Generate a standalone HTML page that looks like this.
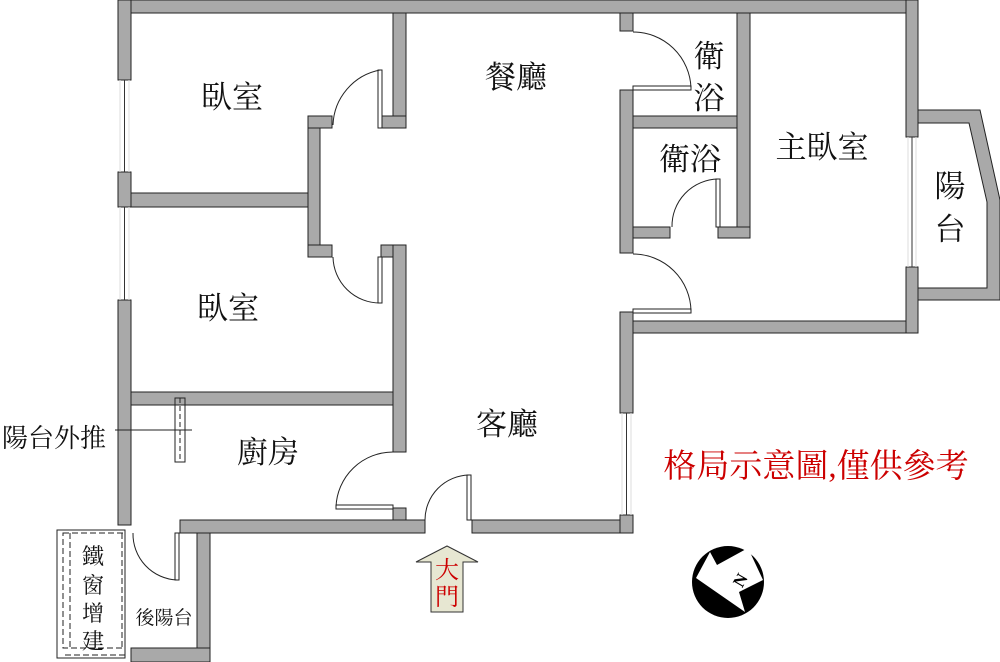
<!DOCTYPE html>
<html><head><meta charset="utf-8"><style>
html,body{margin:0;padding:0;background:#fff;width:1000px;height:662px;overflow:hidden}
svg{display:block}
text{font-family:"Liberation Serif","Noto Serif CJK SC","Noto Sans CJK TC",serif}
</style></head><body>
<svg width="1000" height="662" viewBox="0 0 1000 662" xmlns="http://www.w3.org/2000/svg">
<g fill="#a9a9a9" stroke="#222" stroke-width="1">
<rect x="118" y="0" width="800" height="13"/>
<rect x="118" y="0" width="13" height="80"/>
<rect x="118" y="172" width="13" height="35"/>
<rect x="118" y="300" width="13" height="225"/>
<rect x="131" y="193" width="177" height="14"/>
<rect x="308" y="116" width="12" height="141"/>
<rect x="308" y="116" width="24" height="12"/>
<rect x="308" y="245" width="24" height="12"/>
<rect x="393" y="13" width="13" height="115"/>
<rect x="381" y="116" width="25" height="12"/>
<rect x="381" y="245" width="25" height="12"/>
<rect x="393" y="245" width="13" height="207"/>
<rect x="393" y="508" width="13" height="14"/>
<rect x="131" y="392" width="262" height="13"/>
<rect x="180" y="520" width="245" height="13"/>
<rect x="472" y="520" width="161" height="13"/>
<rect x="197" y="533" width="13" height="129"/>
<rect x="131" y="648" width="79" height="14"/>
<rect x="620" y="13" width="13" height="18"/>
<rect x="620" y="90" width="13" height="163"/>
<rect x="620" y="312" width="13" height="101"/>
<rect x="620" y="515" width="13" height="18"/>
<rect x="737" y="13" width="13" height="225"/>
<rect x="633" y="116" width="104" height="12"/>
<rect x="633" y="227" width="37" height="11"/>
<rect x="718" y="227" width="32" height="11"/>
<rect x="633" y="321" width="285" height="12"/>
<rect x="906" y="0" width="12" height="137"/>
<rect x="906" y="267" width="12" height="66"/>
<path d="M918 110 L980 110 L1000 200 L1000 300 L918 300 L918 288 L987 288 L987 202 L969 123 L918 123 Z"/>
</g>
<g stroke="#333" stroke-width="1" fill="none">
<line x1="124.5" y1="80" x2="124.5" y2="172"/>
<line x1="124.5" y1="207" x2="124.5" y2="300"/>
<line x1="626.5" y1="413" x2="626.5" y2="515"/>
<line x1="912" y1="137" x2="912" y2="267"/>
</g>
<g stroke="#ddd" stroke-width="1" fill="none">
<line x1="120" y1="80" x2="120" y2="172"/><line x1="129" y1="80" x2="129" y2="172"/>
<line x1="120" y1="207" x2="120" y2="300"/><line x1="129" y1="207" x2="129" y2="300"/>
<line x1="622" y1="413" x2="622" y2="515"/><line x1="631" y1="413" x2="631" y2="515"/>
<line x1="908" y1="137" x2="908" y2="267"/><line x1="916" y1="137" x2="916" y2="267"/>
</g>
<g stroke="#222" stroke-width="1" fill="#fff">
<rect x="378" y="70" width="4" height="58"/>
<rect x="378" y="257" width="4" height="46"/>
<rect x="336" y="505" width="57" height="4"/>
<rect x="467" y="475" width="4" height="45"/>
<rect x="633" y="86" width="58" height="4"/>
<rect x="716" y="179" width="4" height="48"/>
<rect x="633" y="309" width="58" height="4"/>
<rect x="175" y="533" width="4" height="47"/>
</g>
<g stroke="#222" stroke-width="1" fill="none">
<path d="M380 70 A58 58 0 0 0 333 125"/>
<path d="M380 303 A47 47 0 0 1 333 257"/>
<path d="M393 452 A57 57 0 0 0 336 507"/>
<path d="M469 475 A45 45 0 0 0 425 520"/>
<path d="M633 32 A58 58 0 0 1 691 88"/>
<path d="M718 179 A47 47 0 0 0 672 227"/>
<path d="M633 254 A58 58 0 0 1 691 311"/>
<path d="M133 533 A46 46 0 0 0 177 580"/>
<rect x="175" y="398" width="10" height="64"/>
<line x1="180" y1="398" x2="180" y2="462" stroke-dasharray="5,3"/>
<line x1="115" y1="430" x2="192" y2="430"/>
<rect x="57" y="530" width="68" height="128"/>
<rect x="63" y="533" width="62" height="115" stroke-dasharray="6,3"/>
<line x1="70" y1="533" x2="70" y2="648" stroke-dasharray="6,3"/>
<line x1="122" y1="533" x2="122" y2="648" stroke-dasharray="6,3"/>
<line x1="65" y1="655" x2="125" y2="655" stroke-dasharray="6,3"/>
</g>
<path d="M416 562 L447 546 L478 562 L463 562 L463 612 L431 612 L431 562 Z" fill="#e7e7d2" stroke="#333" stroke-width="1"/>
<text x="447" y="578" font-size="24" fill="#c00" text-anchor="middle">大</text>
<text x="447" y="605" font-size="24" fill="#c00" text-anchor="middle">門</text>
<circle cx="728" cy="582" r="36" fill="#000"/>
<path d="M696 578 L710 552 L717 565 L748 548 L763 580 L739 592 L745 612 Z" fill="#fff"/>
<text x="740" y="586" font-size="17" font-weight="bold" fill="#000" text-anchor="middle" transform="rotate(-60 740 580)">N</text>
<g fill="#111" font-size="31" text-anchor="middle">
<text x="232" y="108">臥室</text>
<text x="228" y="319">臥室</text>
<text x="516" y="88">餐廳</text>
<text x="709" y="67">衛</text>
<text x="709" y="109">浴</text>
<text x="690" y="170">衛浴</text>
<text x="822" y="158">主臥室</text>
<text x="950" y="197">陽</text>
<text x="950" y="240">台</text>
<text x="507" y="435">客廳</text>
<text x="268" y="463">廚房</text>
</g>
<text x="54" y="447" font-size="26" fill="#111" text-anchor="middle">陽台外推</text>
<g fill="#111" font-size="22" text-anchor="middle">
<text x="93" y="564">鐵</text>
<text x="93" y="593">窗</text>
<text x="93" y="621">增</text>
<text x="93" y="649">建</text>
</g>
<text x="164" y="624" font-size="19" fill="#111" text-anchor="middle">後陽台</text>
<text x="816" y="477" font-size="33" fill="#c00" text-anchor="middle">格局示意圖,僅供參考</text>
</svg>
</body></html>
